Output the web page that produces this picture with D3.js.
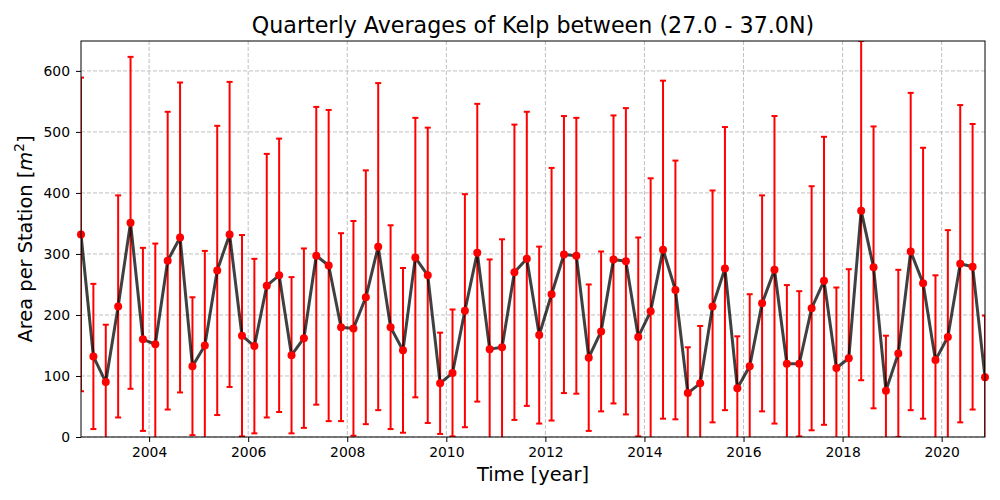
<!DOCTYPE html>
<html><head><meta charset="utf-8">
<script src="https://cdn.jsdelivr.net/npm/d3@7"></script>
<style>
body{margin:0;background:#fff}
svg{font-family:"DejaVu Sans",sans-serif}
</style>
</head><body>
<svg id="c" width="1000" height="500"></svg>
<script>
// ---- data ----
const firstQuarter = 2002.625;   // decimal year of first quarterly average
const quarterStep = 0.25;
const means = [332,132,90,214,351,160,152,289,327,116,150,273,332,166,149,248,265,134,162,297,
               281,180,178,229,312,180,142,294,265,88,105,207,302,144,147,270,292,167,234,299,
               297,130,173,291,288,164,206,307,241,72,88,214,276,80,116,219,274,120,120,211,
               256,113,129,371,278,76,137,304,252,126,164,284,279,98];
const errors = [257,119,94,182,272,150,165,244,254,113,155,237,250,165,143,216,224,128,147,244,
                255,154,176,208,268,167,135,229,242,83,104,191,244,147,177,242,241,145,207,227,
                226,120,131,236,251,163,218,277,212,75,94,190,232,85,118,177,252,129,119,200,
                236,132,146,278,231,90,137,260,222,139,175,260,234,101];
const xTicks = [2004,2006,2008,2010,2012,2014,2016,2018,2020];
const yTicks = [0,100,200,300,400,500,600];
const titleText = "Quarterly Averages of Kelp between (27.0 - 37.0N)";
const xLabel = "Time [year]";

const data = means.map((m,i)=>({t:firstQuarter+i*quarterStep, m, e:errors[i]}));

// ---- layout ----
const L=81, R=985, T=41, B=437;
const svg = d3.select("#c");
const x = d3.scaleLinear().domain(d3.extent(data,d=>d.t)).range([L,R]);
const y = d3.scaleLinear().domain([0, d3.max(data,d=>d.m+d.e)]).range([B,T]);

svg.append("defs").append("clipPath").attr("id","clip")
  .append("rect").attr("x",L).attr("y",T).attr("width",R-L).attr("height",B-T);

// grid
const grid = svg.append("g").attr("stroke","#b0b0b0").attr("stroke-width",0.8).attr("stroke-dasharray","4,2");
grid.selectAll(".gx").data(xTicks).join("line")
  .attr("x1",d=>x(d)).attr("x2",d=>x(d)).attr("y1",T).attr("y2",B);
grid.selectAll(".gy").data(yTicks).join("line")
  .attr("y1",d=>y(d)).attr("y2",d=>y(d)).attr("x1",L).attr("x2",R);

const plot = svg.append("g").attr("clip-path","url(#clip)");

// error bars
const eb = plot.append("g").attr("stroke","#ff0000").attr("stroke-width",2);
eb.selectAll(".v").data(data).join("line")
  .attr("x1",d=>x(d.t)).attr("x2",d=>x(d.t))
  .attr("y1",d=>y(d.m-d.e)).attr("y2",d=>y(d.m+d.e));
eb.selectAll(".ct").data(data).join("line")
  .attr("x1",d=>x(d.t)-3).attr("x2",d=>x(d.t)+3)
  .attr("y1",d=>y(d.m+d.e)).attr("y2",d=>y(d.m+d.e));
eb.selectAll(".cb").data(data).join("line")
  .attr("x1",d=>x(d.t)-3).attr("x2",d=>x(d.t)+3)
  .attr("y1",d=>y(d.m-d.e)).attr("y2",d=>y(d.m-d.e));

// line
plot.append("path").datum(data)
  .attr("fill","none").attr("stroke","#000").attr("stroke-opacity",0.75).attr("stroke-width",3)
  .attr("stroke-linejoin","round")
  .attr("d",d3.line().x(d=>x(d.t)).y(d=>y(d.m)));

// markers
svg.append("g").selectAll("circle").data(data).join("circle")
  .attr("cx",d=>x(d.t)).attr("cy",d=>y(d.m)).attr("r",4).attr("fill","#ff0000");

// axes
const xa = svg.append("g").attr("transform",`translate(0,${B})`)
  .call(d3.axisBottom(x).tickValues(xTicks).tickFormat(d3.format("d")).tickSize(5).tickPadding(5));
const ya = svg.append("g").attr("transform",`translate(${L},0)`)
  .call(d3.axisLeft(y).tickValues(yTicks).tickFormat(d3.format("d")).tickSize(5).tickPadding(6));
[xa,ya].forEach(a=>{
  a.select(".domain").remove();
  a.selectAll("text").attr("font-size",13.9).attr("font-family","DejaVu Sans").attr("fill","#000");
  a.selectAll("line").attr("stroke","#000");
});

// frame
svg.append("rect").attr("x",L).attr("y",T).attr("width",R-L).attr("height",B-T)
  .attr("fill","none").attr("stroke","#000").attr("stroke-width",1);

// title and labels
svg.append("text").attr("x",(L+R)/2).attr("y",33).attr("text-anchor","middle")
  .attr("font-size",22.2).text(titleText);
svg.append("text").attr("x",(L+R)/2).attr("y",481).attr("text-anchor","middle")
  .attr("font-size",19.4).text(xLabel);
const yl = svg.append("text").attr("transform",`translate(32,${(T+B)/2}) rotate(-90)`)
  .attr("text-anchor","middle").attr("font-size",19.4);
yl.append("tspan").text("Area per Station [");
yl.append("tspan").attr("font-style","italic").text("m");
yl.append("tspan").attr("font-size",13.6).attr("dy",-8).text("2");
yl.append("tspan").attr("dy",8).text("]");
</script>
</body></html>
